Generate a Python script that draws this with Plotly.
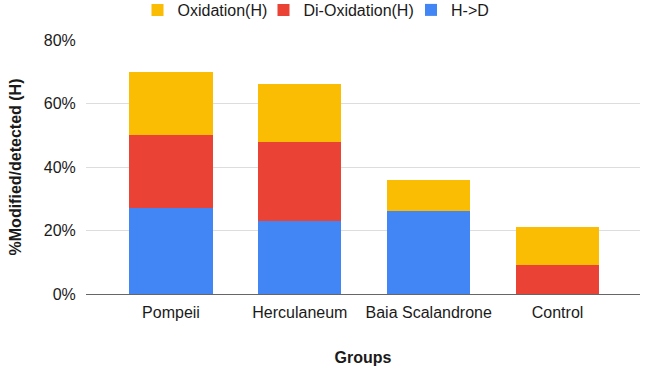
import plotly.graph_objects as go

groups = ["Pompeii", "Herculaneum", "Baia Scalandrone", "Control"]
h_to_d = [27, 23, 26, 0]
di_oxidation = [23, 25, 0, 9]
oxidation = [20, 18, 10, 12]
y_ticks = [0, 20, 40, 60, 80]
y_tick_labels = ["0%", "20%", "40%", "60%", "80%"]

BLUE = "#4285F4"
RED = "#EA4335"
YELLOW = "#FBBC04"
TEXT = "#1a1a1a"
FONT = "Arial, Liberation Sans, sans-serif"
W, H = 645, 369

fig = go.Figure()
fig.add_trace(go.Bar(x=groups, y=h_to_d, name="H->D", legend="legend3",
                     marker=dict(color=BLUE, line=dict(width=0))))
fig.add_trace(go.Bar(x=groups, y=di_oxidation, name="Di-Oxidation(H)", legend="legend2",
                     marker=dict(color=RED, line=dict(width=0))))
fig.add_trace(go.Bar(x=groups, y=oxidation, name="Oxidation(H)", legend="legend",
                     marker=dict(color=YELLOW, line=dict(width=0))))

def leg(left_px):
    return dict(
        orientation="h",
        xref="container", x=left_px / W, xanchor="left",
        yref="container", y=1 - 10 / H, yanchor="middle",
        font=dict(size=16, color=TEXT, family=FONT),
        bgcolor="rgba(0,0,0,0)", borderwidth=0,
    )

fig.update_layout(
    width=W, height=H,
    barmode="stack",
    bargap=0.355,
    showlegend=True,
    plot_bgcolor="white",
    paper_bgcolor="white",
    margin=dict(l=86, r=5, t=40, b=75),
    font=dict(family=FONT, size=16, color=TEXT),
    legend=leg(137.5),
    legend2=leg(263.5),
    legend3=leg(411),
    xaxis=dict(
        range=[-0.66, 3.64],
        title=dict(text="<b>Groups</b>", font=dict(size=16, color=TEXT), standoff=31),
        tickfont=dict(size=16, color=TEXT),
        showgrid=False,
        showline=True, linecolor="#666666", linewidth=1,
        ticks="outside", ticklen=4, tickcolor="rgba(0,0,0,0)",
    ),
    yaxis=dict(
        range=[0, 80],
        tickvals=y_ticks, ticktext=y_tick_labels,
        title=dict(text="<b>%Modified/detected (H)</b>", font=dict(size=16, color=TEXT), standoff=18),
        tickfont=dict(size=16, color=TEXT),
        showgrid=True, gridcolor="#DDDDDD", gridwidth=1,
        zeroline=False, showline=False,
        ticks="outside", ticklen=6, tickcolor="rgba(0,0,0,0)",
    ),
)

fig.write_html("out.html", config={"displayModeBar": False},
               post_script="document.body.style.margin='0';")
